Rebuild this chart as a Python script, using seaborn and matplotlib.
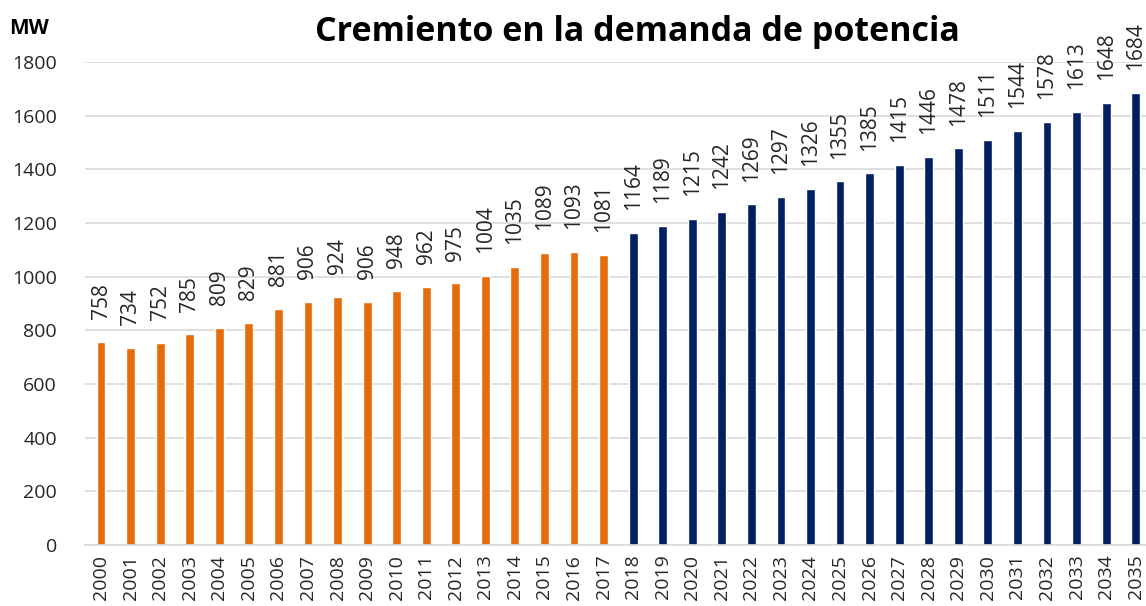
import pandas as pd
import matplotlib.pyplot as plt
import seaborn as sns

years = [str(y) for y in range(2000, 2036)]
demand_mw = [758, 734, 752, 785, 809, 829, 881, 906, 924, 906, 948, 962, 975, 1004,
             1035, 1089, 1093, 1081,
             1164, 1189, 1215, 1242, 1269, 1297, 1326, 1355, 1385, 1415, 1446, 1478,
             1511, 1544, 1578, 1613, 1648, 1684]
period = ["hist"] * 18 + ["proj"] * 18
palette = {"hist": "#E46C0A", "proj": "#002060"}

df = pd.DataFrame({"year": years, "mw": demand_mw, "period": period})

sns.set_style("white")
plt.rcParams["font.family"] = ["Open Sans", "DejaVu Sans"]

fig = plt.figure(figsize=(11.46, 6.06), dpi=100)
ax = fig.add_axes([0.074, 0.1007, 0.926, 0.797])
sns.barplot(data=df, x="year", y="mw", hue="period", palette=palette,
            dodge=False, width=0.3, legend=False, ax=ax, saturation=1)

ax.set_ylim(0, 1800)
ax.set_xlim(-0.55, 35.35)
ax.set_yticks(range(0, 1801, 200))
ax.yaxis.grid(True, color="#d9d9d9", linewidth=1.2)
ax.set_axisbelow(True)
for s in ["top", "right", "left"]:
    ax.spines[s].set_visible(False)
ax.spines["bottom"].set_color("#d9d9d9")
ax.spines["bottom"].set_linewidth(1.2)
ax.tick_params(axis="both", length=0, labelsize=14, colors="#262626")
ax.tick_params(axis="y", pad=20)
ax.tick_params(axis="x", pad=7)
plt.setp(ax.get_xticklabels(), rotation=90)
ax.set_xlabel("")
ax.set_ylabel("")

# value labels sit a bit above each bar
for i, v in enumerate(demand_mw):
    ax.text(i, v + 85, str(v), rotation=90, ha="center", va="bottom",
            fontsize=15, color="#262626", clip_on=False)

fig.text(0.556, 0.947, "Cremiento en la demanda de potencia", ha="center",
         va="center", fontsize=24.5, fontweight="bold", color="black")
fig.text(0.008, 0.953, "MW", ha="left", va="center", fontsize=15,
         fontweight="bold", color="black")

fig.savefig("out.png", dpi=100)
